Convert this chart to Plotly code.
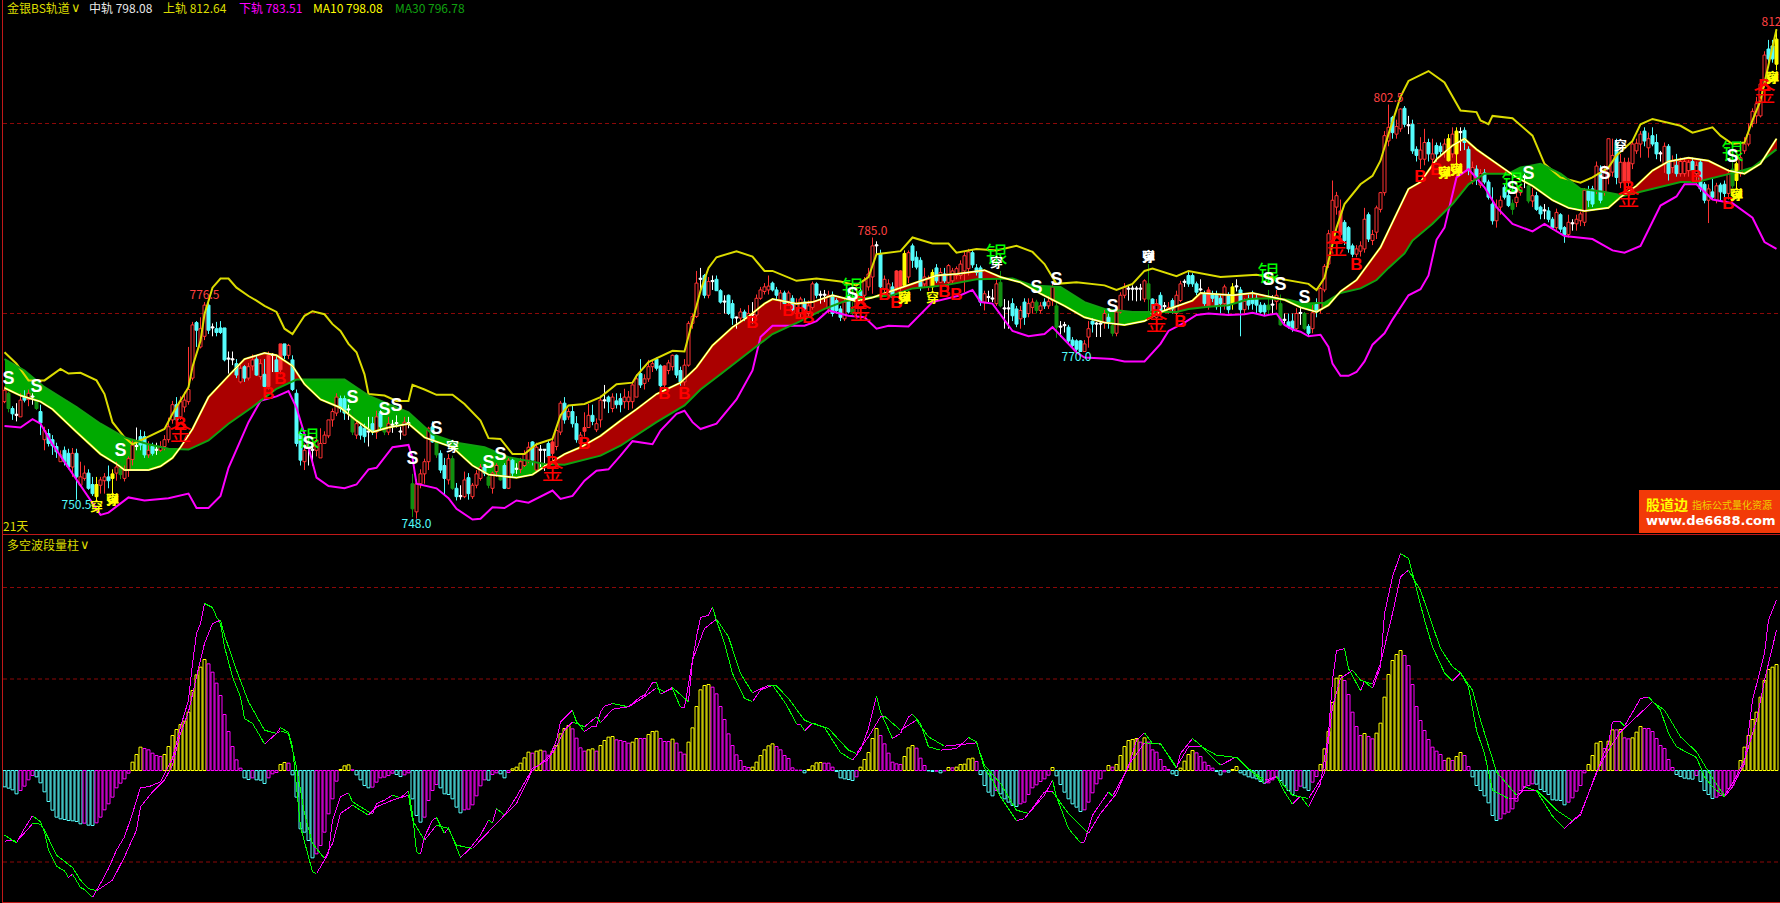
import numpy as np
import plotly.graph_objects as go

W, H = 1780, 903
DIV = 534

# ---------- candles (one value per bar) ----------
opens = [
763.4,764.5,762.5,761.6,761.4,764,763.7,764,763.8,762.1,
758.4,759.2,758.4,757.5,755.5,757,756.6,754.8,756.6,752.4,
753.3,754,752.5,752.5,752.4,753,753.5,753.9,754,754.6,
753.3,754.4,755.8,757.5,758.8,758.8,756.4,757.5,757,757,
757.5,758.4,761,763,761.4,762.7,763.4,766.5,773.8,770.6,
772,776.1,773.1,773,773.1,773.1,769,768.9,768.4,766,
768,766.5,768.1,769,766.7,767,765.4,769.5,768.9,767.6,
771,769.5,768.9,764.5,759.2,755.5,757.9,757,757,756,
757.9,758.9,761,761.9,763.8,763.8,762.3,761.4,759,760.1,
759.9,759.4,760.5,759.4,761.9,760.1,759.4,760.3,760.5,759.4,
759,760.5,752.6,748.9,752.6,753.9,755.5,760.1,758.1,756.6,
755,753.1,755.9,752,750.9,750.9,753.4,750.9,752.4,753.3,
754.8,753.5,752,754.2,754.2,755,752,755.7,754.5,754.5,
755,755.7,758.1,754.4,757,757,757.9,756.6,757.5,759.4,
763.2,761.4,762.1,760.5,757.9,759.5,760,761.6,759.7,761,
763.5,764,762.5,763.5,763.8,763.4,763.4,763.4,764,767.1,
765.8,766.4,768,769,768.1,765.6,767.5,768,769.5,767.5,
766,768.2,773.7,774.6,779.5,780,777.4,779.2,779.5,778,
776.5,777.4,776.3,774.4,774.4,775.2,774.4,774.8,774.8,777,
777.9,778.1,779,778.1,776.8,777.7,776.6,777,775,775,
776.5,775,775.8,778.9,777.4,777.4,775.6,777.4,776.7,775.6,
774.3,777.4,775.6,775,778,777.4,778.5,779.8,783.9,782.8,
778.2,777.4,778.5,778.2,778.5,782.9,779.8,783.9,782.4,782,
778.9,778.5,780.4,781,779.1,780.2,779.1,779.3,780,780,
780.6,780.9,783,781,781,776.5,777.1,776.9,776.3,779.1,
775.6,775.6,776.3,775.6,774.3,776.5,775,775.8,776.5,775.4,
776.5,776,776.7,776,773.2,773.4,773.2,771.5,771.4,771.4,
770,771.9,774,773.6,773.6,773.9,774.5,773.4,772.4,775.2,
777.4,778.2,778.2,778.2,778.2,776.9,778.9,776.9,774.5,777.4,
775.9,775.2,776.7,775,776.7,779.1,780,780,778.9,778.1,
777.6,775.9,777.6,777.4,777,776.3,777.4,778.5,778.5,778.1,
775.5,776.8,776.9,777,776.1,776.1,776.1,776.1,776.6,776.3,
774.1,773.9,774,773,775,775,773.3,773,776.2,775.5,
778.1,781.5,784.6,789,785.4,787,786.3,783.9,782.8,783.2,
783.5,788,784.6,785.7,788.7,790.9,797.7,800.8,798.6,799.3,
802,799.7,799.9,796.6,795.3,795.3,797.5,795.3,797.1,797,
796.2,798,796,799,798.8,799.1,796.6,792.5,794,791.9,
793.5,792.3,789.4,787.2,789,791.6,790.5,789.5,789.6,790.9,
792.9,791.8,789.8,790.5,789,788.5,788.5,787.4,786.3,788,
786.3,785.4,786.8,786.8,787.2,787,791.2,791.4,791.2,793.4,
791,793.1,793.6,797.5,792.2,792.2,792.2,794.7,796.4,797.3,
799,796.8,798.4,797.5,796,794.7,797,794.2,794.5,793.4,
793.4,793.8,795,793.4,794.9,792,789.9,791,789.9,791.9,
792,790.8,794,794.7,793.4,796.4,797.3,800,801,801,
805.2,809.8,810.2,811.1]
closes = [
764.9,762.5,761.8,761.6,763.6,763.6,764.5,764,762.5,760.6,
759.6,757.9,757.6,756.8,756.4,755.5,754.8,756.6,753.5,753.5,
754,752,751.3,750.9,753.1,753.5,753,753.3,754.8,753.8,
754.4,755.9,757.7,757.5,757.7,756.4,757,756.6,757,757.5,
758.4,760.1,763,761,763.4,763.6,765,773.5,772.8,773,
776.1,772.8,773.1,772.5,772.5,768.9,769,768.9,766.9,767.8,
766.5,768,768.9,766.9,768.4,765.4,769.5,769.5,767.3,771,
769.5,770.8,765,757.9,755.7,757,757.9,757,758.3,757.9,
759,761,762.1,764,762.5,761.9,762.3,759.4,760.5,759,
758.8,759.4,759.4,761.4,760.1,759.4,760.5,760.3,760.5,759.4,
760.7,760.5,749.3,752.6,753.9,755.5,759.9,758.1,756.4,754.4,
753.3,755.9,752,750.9,750.9,753.1,751.3,752.4,753.9,754.8,
754,752.4,754,755,753.1,752,755.7,754,754.5,755.5,
756.5,757.4,755.7,757.4,757,757,756.1,758.1,759.6,763.2,
761,762.1,760.5,758.4,759,760,761.6,760.8,760.5,763.6,
763.5,763.4,764,763,763,764,764,765.6,766.4,765.6,
766.4,768,768.4,767.8,765.5,768.1,768.5,769.5,766.9,766,
768.2,773.7,774.6,779,779.5,777.4,779.2,779.2,778,776.5,
776.5,775,774.4,774.4,775.2,774.4,775,774.8,777,778.1,
778.5,778.6,778.1,777.4,777.7,776.3,777.7,775.5,776.3,776.9,
775.6,776,778.9,777.4,777.4,777.4,777.4,775,775.4,774.5,
776.5,775.2,775,777.6,777.1,779.3,780.2,783.9,783.9,778.5,
779.5,778.9,777.1,780.6,780.6,778.7,783,782,781.1,778.5,
779.8,779.5,778.5,779.3,780.4,779.3,781.3,780.6,780.9,781.5,
782.6,783.1,781.4,780.4,776.5,777.6,777.1,776.9,778.9,776,
775.6,775.6,774.7,773.6,775.4,774.5,776.3,776.5,775.4,776,
776,776.6,778.5,773.2,773.2,773.4,771.4,770.8,770.3,770,
771,773,773.6,773.6,773.6,775,773.9,772.4,775.2,777.4,
778.5,778.2,778.2,778.2,778.2,779.3,776.9,774.9,776.3,775.2,
775.9,775.8,775.6,777.4,778.9,779.1,778.9,778.9,777.8,778.1,
776.3,778.1,777,775.9,776.3,778.5,775.5,776.3,778.5,775.5,
776.6,776.1,776.3,776.1,775.2,775.2,775.5,776.1,777.4,773.5,
774.1,773.3,773,775,775,773,772.4,775.1,775.2,778.3,
781.2,785.5,789.9,790.5,788.5,784.6,783.5,782.8,783.5,783.9,
787.4,784.8,785.4,788.9,790.9,798.4,799.5,798.8,799.6,801.9,
799.9,799.7,796.4,795.8,796.5,797.5,796,796,796,796.3,
797.3,795.1,798.6,796,798.8,797.5,793.8,794.2,792.9,793.4,
792.3,790.3,787.2,789,789.9,790.3,789.2,788.7,790.3,791.6,
792.9,789.8,790.5,788.7,788.1,788.5,787.4,786.3,788.3,786.1,
785.4,787,786.8,787.4,788.1,791.2,789.9,789.4,794.4,789.9,
793.8,798,795.8,792.9,794.9,794.9,794.9,797.3,797.4,798.6,
797.7,798,797.3,796,796,797,793.4,795.1,793.4,795,
795,794.9,793.8,794.5,791.4,789.9,791.4,790.3,791.8,791,
790.8,793.4,791.8,792.5,795.5,797.3,798.6,801.6,802.6,805.2,
809,808.5,808.5,807.8]
highs = [
765.4,764.7,762.8,763.2,764.5,764.9,765,764.5,764.2,763,
760.1,759.8,759,758,757,757.5,757.2,757.3,757.2,755.5,
755,754.5,753.5,753.5,753.5,754,755,754.5,755.5,755.4,
755,756.2,758.5,760,759.7,759.5,758.2,758,758,758.2,
759,761.3,763.5,764,764.1,764.7,770.6,773.9,774,774.5,
776.5,776.5,773.7,773.9,774,773.1,770,770,769,768.2,
768.2,768.5,769.6,769.5,769,769,770,769.8,769.4,771,
771,771,769.5,765,759.5,757.9,758.8,758,759.2,759.9,
759.5,761,762.5,764.5,764.2,764.2,763,762.4,761,760.5,
760.5,761.4,761.4,762.2,762.3,760.8,761.4,761,761.6,760.1,
761.4,761.4,753.9,753.2,754.5,755.9,760.1,760.8,758.5,757,
756,756.5,756.3,752.7,752.4,754.2,754,752.7,754.4,755.2,
755.2,754,754.2,755.3,754.9,755.3,756,756,755.3,756,
757,758.1,758.2,758,757.7,757.1,758.2,758.5,760.1,763.5,
764,762.5,762.9,761.5,759.4,762,763.1,763,761.2,764.2,
765.6,764.2,764.5,764.5,764.5,765.1,764.8,766,767,769,
767,768.9,768.9,769.2,768.3,768.2,768.9,769.6,769.6,768,
769,774,775,780.6,781,780.2,779.8,780,780,778.2,
777.4,777.5,776.8,774.6,775.7,775.5,776.1,776.5,777.5,778.5,
779,780,779.2,778.5,778.1,778,778,777.4,777,777.2,
777,776.7,779.2,779.1,778,778.1,778,777.9,777,776,
777,778,776.5,778.5,778.5,779.8,781,785,784.5,783.4,
780,779.5,779.1,780.7,780.7,783.3,783.3,784.2,783.2,782.4,
781,780,780.8,781.5,781,781,781.5,781,781.2,782,
783.1,783.5,783.4,781.5,781.3,778,778,778.2,779.5,780.6,
776.9,776.7,777,776,776,777,777,777,776.8,776.5,
777,777.3,779,777,774,773.9,773.5,771.9,771.6,771.5,
771.5,774,774.4,773.9,773.9,775.6,775,774,775.6,777.8,
779,778.7,778.7,778.6,778.9,779.5,781.5,777,776.9,777.8,
776.5,776.5,777,778,779.3,779.5,780.5,780.3,779.2,779.5,
778,778.5,778,778,777.4,778.8,777.8,779,779.5,778.5,
777,777.5,778,777.5,776.5,776.4,778.1,777.4,778.1,777.5,
775,775,775,775.7,775.9,775.2,773.6,776.1,777,778.5,
781.5,786,792.5,791,790,787.3,786.5,784.2,784,784.5,
788.9,788.3,786,789.2,791,799,802.5,801,800.5,802,
802.3,801,800.5,797,798.2,799.3,798,798,797.5,797.5,
798,798.6,799.5,799.5,799.5,799.5,797,795,794.5,794,
794,792.6,791.6,790,790.5,792,791,790,791,792,
793.4,792.5,791.5,791,789.2,789.4,789,787.7,788.8,788.2,
786.5,788,787.4,788,788.4,791.5,791.8,791.8,795,794.5,
794.5,798,798,798,796,795.5,795.5,797.7,798,799,
799.5,798.8,799.5,798.6,796.4,797.5,797.3,795.8,796,795.5,
795.5,795.2,795.5,795,795.2,792.3,792,792.7,792.2,792.2,
792.5,794,795,795,797.7,798.2,800,802,803.5,805.5,
809.5,811,811,812.4]
lows = [
763.2,762,761,760.8,761.4,763.3,762.8,763,762.3,759,
757,757.5,756.4,756,755.5,755,754.5,753.5,750.5,752.2,
753,751.8,751,750.2,751.3,751.3,752,751,753,753.2,
752.9,753.5,755,757,757,756,756,756.3,756.4,756.8,
757,758,760.5,760.5,761,762,763,766.2,770.6,770.4,
771.5,772.3,772,772,772.3,768.7,767.1,768.2,766.5,765.8,
766,766.2,767.5,766.8,766.3,765,765,767.3,767,767,
769,769,764.8,757.5,755,754.4,755,755,756.2,756,
757.9,758.6,760.1,761.5,762,761,761,759,758.5,758.4,
758,757.5,759,758.5,759.8,759,759,759.3,760,758.4,
759,759.9,748.2,748,752,752.6,754.4,758,756,754,
751.1,752.5,751.8,750.4,750.5,750.7,750.5,750.6,752,753,
753.6,752,751.3,753.5,753,751.9,751.9,753.5,753.9,754,
754.8,755.3,755,754,754.8,754.3,755,755.5,757,759,
760.5,761,760,758,757.5,758.8,760,760.3,759.4,760,
762.5,761.9,762,762.5,762,762.5,762.3,762.5,764,765.2,
765,766,767.3,767.5,765,765,767,767.5,766.5,765.5,
765.5,768,773,774.4,778.1,777,777,778.1,778,776.3,
775,774.8,773.5,773,774,774,774,773.7,774.5,776.8,
777.5,777.5,777.9,776.8,775.5,776,776,775,774.8,774.4,
775.3,774.6,775.5,777,776.3,776.5,775,774.6,775,774,
774,775,774.8,774.6,776.5,777,778,777.6,782.8,778,
777.8,777,776.5,778,778,778.5,779,781,780.8,778,
778.5,778,778,779,779,779,778,779,779.5,779.5,
777.8,780,781,780,776,775.4,776.5,776.5,776,775.8,
773,773,774,773.2,773,773.5,774.5,775,775,775,
775.6,775.6,776,771.8,771.9,772.5,771,770.5,770,770,
770,770.5,772.5,771.9,771.9,773,773,772,772,775,
777,776.7,776.7,776.6,776.7,776.5,775,774.6,774,775,
775.4,775,775,774.6,776.5,778.5,778.5,778.5,777.4,777.9,
776,775.5,776.5,775.5,775,775.5,775,775.5,777.9,772,
775,775.5,775.5,775,775,774.8,774.8,775,775.5,773.4,
773.5,773,772.6,772.8,773.5,772.8,772,772.4,774.5,775,
777.8,781,784,788,785,784,783,782.4,782.4,782.5,
783,784.4,784,784.8,788.3,790.5,797,798,798,798.9,
799.5,798.6,796,795,794,794.5,795,794.5,795,795.6,
795.5,795,795.5,794,796.4,796.5,793.2,792,791.9,791.5,
792,790,786.7,786.3,788,790,789,788,789,790.5,
791.5,789.5,789,788.5,787.4,787.4,787,786,786,785.7,
784.3,785,785.9,785.9,786.5,786.5,789,789,790.7,789.5,
790.5,792,793,792,791.5,791.5,791.5,794,796,795.5,
797,795.5,797,795.3,795,793.5,792.5,793.5,793,793,
793,793,793,792,791,789.5,786.9,790,789.5,789.8,
790,790,791.5,791.5,793,796,797,799.5,800,800.8,
804.7,808,808,807]

green_bars = [1,8,29,87,95,102,108,112,121,124,212,249,258,263,277,286,316,319,325,377,381,432]
yellow_bars = [23,27,225,232,307,361,363,433,443]
solid_red_bars = [66,69,137,145,165,223,224,301,334,405,406]

high_labels = [50,217,346,443]
low_labels = [18,103,268]

# ---------- channel lines (bar index, price) ----------
upper_x = [0,3,6,10,14,16,19,23,25,27,30,32,36,40,42,46,47,49,50,51,52,54,56,58,61,63,65,68,70,72,75,77,80,82,84,86,88,90,91,95,98,101,102,105,108,112,115,119,121,124,127,130,133,137,139,141,145,149,153,157,158,161,164,167,170,172,174,176,178,183,187,190,192,198,203,209,213,216,218,224,227,232,236,238,243,248,253,257,260,263,268,275,278,282,285,287,293,296,299,304,313,322,326,328,330,331,333,335,339,342,344,346,349,351,356,360,364,368,369,371,372,377,382,385,389,394,397,401,403,407,409,412,419,422,427,429,432,435,437,439,443]
upper_y = [769.9,768.4,766.2,766.2,767.7,767.1,767.2,766.2,764.4,760.7,758.7,757.8,758.8,759.8,761.8,765.3,768,771.4,774.9,776.8,778.4,779.6,779.6,778.4,777.3,776.7,776,775.2,773,772.3,774.7,775.3,774.9,773.6,772.7,771,769.9,767,764.4,764.2,763.5,763.5,765.6,765,764.3,764.3,763.1,760.9,758.6,758.5,756.5,756.5,757.8,758.5,761.6,762.9,763.1,764,765.7,765.9,766.8,768.6,769.3,770.1,770,774,778,781,782.4,783.2,782.5,780.6,780.6,779.3,779.6,779.2,778.7,779.8,782.8,783.2,785,784.2,784.2,783,783.5,783.3,783.9,783.1,781.5,778.9,779.1,778.7,778.1,778.9,780.6,780.9,779.9,780.6,780.3,779.8,780.1,779.2,778.9,778.1,779.7,781.9,786.3,789.4,792,793.1,795.1,798.6,803.5,805.6,806.9,805.4,801.7,801.5,800.4,799.9,801,800.7,798.4,794.7,792.9,792.2,792.9,794.2,795.8,797.7,799.9,800.6,799.7,798.8,799.5,798.4,797.3,797.5,800.4,803,812.4]
lower_x = [0,4,7,9,12,17,21,24,26,31,35,41,46,48,51,54,56,61,64,68,71,73,76,78,81,85,88,91,93,97,101,102,103,108,111,113,117,119,122,125,128,131,137,139,142,145,148,151,154,157,162,164,168,170,172,174,178,183,187,189,192,200,203,206,211,215,218,221,226,232,239,242,244,247,252,256,260,262,264,268,270,277,280,285,289,291,295,298,301,306,310,312,315,318,320,322,324,326,329,331,332,334,336,338,340,342,345,347,351,354,356,358,360,363,366,370,373,377,382,385,390,397,402,405,409,414,418,420,423,427,432,437,440,443]
lower_y = [760.2,760,761.1,760.5,757.8,753.9,750.8,748.5,748.8,750.8,750.4,750.7,751.3,749.4,749.4,751,754.7,760.7,763.5,764.1,764.8,762.6,757.4,753.4,752.3,752,752.5,754.5,754.7,757.4,757.7,756,752.6,752,750.7,749.3,747.9,748,749.5,749.4,750.4,750.1,751.7,750.6,751,753,754.3,754.5,756.3,758.2,757.8,759.6,761.8,762.2,760.7,759.8,760.5,763.7,767.5,771.9,773.4,773.4,774,775.4,774.7,774.5,773,773.4,773.3,776.5,777.4,778.1,776.5,776.3,772.7,772,772.3,773.2,772.1,769.9,769.2,769,768.7,768.7,771,772.7,773.8,774.8,775,774.8,774.9,775.1,774.7,775,773.5,772.9,772.6,772,772.2,770.6,768.4,766.8,766.8,767.3,768.7,770.9,772.4,774.2,777.4,778.2,780,784.7,786.3,792.9,794,791.6,789,786.8,785.8,786.8,785.2,784.8,783.3,783,783.9,789.2,790.4,792,792,790,789.5,787.6,784.4,783.5]
ma10_x = [0,4,9,12,18,24,28,30,36,39,42,44,47,51,56,60,65,68,72,75,79,84,88,92,96,101,105,112,117,121,128,132,136,140,144,149,154,158,163,169,173,177,182,186,190,192,198,202,207,213,217,223,228,233,238,245,249,254,259,265,270,275,280,285,289,293,297,299,307,312,316,320,324,328,331,334,338,341,344,348,351,354,358,362,365,368,373,378,382,387,391,395,401,404,408,412,416,421,426,431,435,439,443]
ma10_y = [765.2,764.2,763.4,762.4,759.4,756.5,755.2,754.4,754.4,754.9,756,757.4,759.8,764,766.8,769,769.8,769.5,768.1,765.7,763.7,762.6,760.9,759.4,760,760.5,758.7,757.4,755,753.8,753.4,753.8,755.2,756.5,757.4,758.9,760.9,762.4,764.4,765.9,767.9,770.8,773.2,774.6,776.3,776.9,776.3,776.5,777.4,776.6,777.1,778.2,779.1,780,780.2,780.7,779.8,779.1,777.6,776,774.5,773.8,773.5,774,775.2,776,776.7,777.7,777.4,777.7,777.2,776.8,775.8,775.2,776.1,777.9,779.4,781.6,783.7,788.1,791.4,792.3,795.3,797.1,798,796.6,794.7,792.9,791.8,789.9,788.9,788.5,788.9,790.3,791.8,793.8,795,795.5,795.1,793.8,793.4,794.7,798]
ma30_x = [0,5,10,18,24,30,36,41,46,51,56,62,68,73,85,91,101,107,113,120,126,135,140,149,154,158,163,170,174,179,187,192,199,205,210,216,222,227,235,243,252,257,264,270,275,282,286,293,296,301,306,311,316,321,325,330,334,339,343,346,350,352,357,362,366,370,376,379,384,389,394,400,405,412,419,423,428,433,437,443]
ma30_y = [769,767.5,765.3,762.7,760.5,758.7,757.8,757.2,757.1,758.3,760.5,762.7,765.1,766.3,766.3,764.2,762,759.1,758,757.4,756.1,755.2,755.1,756.3,757.6,759,760.7,762.9,765,767,770.3,772.3,774,775.6,776.6,777.1,777.4,778.3,778.7,779.5,779.6,778.7,778.5,776.5,775.6,775.2,775.2,775.2,775.6,775.9,776.1,776.9,777,776.8,776.3,776.4,777.7,778.3,779.4,781,782.9,784.6,786.8,789.4,792,793.4,793.4,794.2,794.7,793.4,791.4,791,790.5,791.4,792.3,792.3,792.9,793.6,794.2,796.6]

# ---------- volume-wave histogram (one value per bar) ----------
hist = [
-49,-53,-58,-70,-60,-47,-28,-15,-19,-37,
-64,-93,-119,-140,-145,-147,-150,-151,-153,-160,
-158,-164,-165,-157,-140,-118,-100,-80,-52,-38,
-25,-8,25,48,70,66,62,52,45,42,
48,72,105,123,138,148,175,240,287,310,
333,320,295,262,225,168,117,72,32,7,
-22,-27,-22,-28,-29,-39,-22,-10,-6,18,
24,22,-13,-80,-175,-185,-210,-262,-250,-225,
-185,-130,-85,-32,3,14,17,2,-13,-28,
-45,-52,-50,-35,-22,-20,-15,-8,-12,-18,
-13,-7,-85,-135,-155,-140,-90,-60,-42,-52,
-70,-72,-85,-110,-127,-118,-116,-103,-76,-46,
-28,-29,-12,-7,-10,-22,-6,5,10,22,
38,55,52,58,61,58,46,58,75,110,
126,135,125,97,68,58,62,65,58,
75,90,100,102,92,90,87,82,85,96,
96,96,108,117,118,96,87,87,94,82,
55,49,85,128,192,242,255,258,250,230,
192,153,110,75,47,30,12,9,10,25,
45,62,74,80,72,62,45,36,8,1,
1,-7,3,14,23,24,22,22,10,-3,
-22,-25,-27,-30,-19,10,33,54,96,126,
105,80,52,25,20,18,42,68,75,67,
37,15,-1,-3,-2,-7,-1,9,8,10,
18,19,35,37,27,-12,-45,-65,-76,-60,
-70,-85,-95,-105,-108,-100,-95,-72,-52,-43,
-33,-25,-14,9,-16,-42,-65,-85,-100,-110,
-123,-118,-95,-67,-40,-25,-1,15,10,18,
45,72,90,93,96,85,98,85,62,55,
33,12,3,-10,-15,7,28,48,60,53,
42,25,15,7,-3,-13,-4,-5,3,12,
-7,-13,-19,-22,-25,-33,-38,-37,-28,-20,
-30,-45,-60,-72,-60,-47,-52,-60,-35,-18,
18,65,117,204,277,285,270,228,175,132,
105,111,102,95,112,142,220,288,330,348,
360,345,315,258,192,150,120,93,70,58,
48,30,37,30,42,54,45,12,-19,-45,
-60,-76,-97,-135,-150,-145,-130,-125,-115,-92,
-60,-48,-45,-40,-41,-57,-63,-72,-88,-89,
-90,-103,-95,-82,-62,-45,-7,18,45,82,
87,66,88,122,122,123,98,95,98,115,
132,126,126,117,96,75,66,33,9,-12,
-18,-23,-25,-26,-15,-33,-60,-72,-84,-80,
-75,-74,-55,-45,-20,30,70,105,153,175,
220,270,303,310,318]

fast_x = [0,3,5,7,9,10,11,13,15,16,17,19,20,22,24,26,28,30,32,34,36,39,42,44,46,47,48,49,50,52,53,54,55,57,59,60,62,64,65,68,69,71,72,73,74,76,77,78,79,81,82,84,86,87,89,92,93,95,97,99,101,102,103,104,105,107,108,110,111,114,116,119,121,122,123,125,128,132,136,138,139,142,143,145,147,148,149,150,152,154,156,159,160,162,163,164,167,169,170,173,174,176,177,178,180,182,185,187,189,192,195,196,198,199,200,202,205,207,209,212,214,216,218,219,222,224,226,227,229,231,234,238,239,241,243,245,247,249,253,255,258,260,262,263,266,269,270,272,276,277,281,283,285,287,289,293,294,297,299,301,304,308,310,315,318,320,322,324,326,329,331,332,333,335,336,339,340,342,344,345,347,349,351,352,355,357,360,362,364,366,368,370,372,376,378,380,383,387,390,394,398,400,401,402,404,405,409,411,414,416,418,423,425,427,430,432,435,437,440,441,443]
fast_y = [-194,-217,-174,-136,-154,-184,-239,-287,-301,-321,-311,-351,-357,-381,-339,-294,-239,-199,-129,-51,-49,-34,36,131,211,321,411,441,501,489,461,441,371,281,221,156,141,101,79,111,129,114,71,-49,-169,-259,-304,-309,-289,-249,-149,-79,-67,-94,-109,-131,-99,-89,-74,-82,-61,-129,-244,-252,-199,-149,-141,-189,-171,-261,-239,-194,-149,-157,-114,-134,-79,6,33,91,146,181,146,117,133,133,176,193,201,196,191,221,226,263,264,229,246,189,189,401,459,466,489,451,381,291,216,207,241,256,206,186,139,139,119,143,129,91,54,31,61,126,224,176,96,111,161,169,141,71,61,66,76,99,86,6,-29,-79,-151,-144,-101,-74,-29,-79,-174,-217,-214,-134,-64,-77,11,91,113,81,81,6,51,96,76,51,16,41,16,-39,-17,-64,-101,-77,-109,-39,111,271,359,366,306,239,268,246,311,471,581,651,636,591,451,371,293,269,293,251,121,51,-59,-84,-84,-49,-61,-137,-174,-129,-9,56,81,146,146,133,216,221,181,111,71,39,-19,-49,-79,-49,21,211,351,451,511]
slow_x = [0,2,3,6,7,9,10,13,17,19,21,23,27,30,33,34,37,40,42,44,46,48,50,52,54,55,58,61,65,68,69,71,73,75,77,80,82,84,87,89,91,93,97,101,102,105,108,111,113,117,121,125,128,132,137,140,142,145,148,149,152,156,160,163,165,167,171,172,175,178,181,184,187,191,193,196,200,202,206,211,213,216,219,220,224,228,231,235,240,243,245,249,253,256,260,262,266,271,274,278,281,285,289,293,296,299,303,308,311,315,318,322,326,330,332,334,337,339,342,344,347,349,351,354,359,362,364,367,369,373,378,380,383,388,392,394,398,401,404,408,412,415,419,423,426,429,430,432,435,438,440,443]
slow_y = [-212,-209,-213,-174,-159,-161,-179,-254,-291,-329,-354,-361,-329,-259,-179,-109,-64,-29,16,111,176,281,381,441,451,406,301,206,121,111,119,111,11,-129,-219,-264,-219,-129,-104,-119,-134,-109,-89,-74,-149,-209,-164,-174,-224,-234,-184,-134,-99,1,51,121,146,131,161,143,184,191,221,248,236,249,206,331,426,454,401,291,233,256,254,216,151,141,126,61,51,101,161,163,121,151,101,73,79,83,16,-39,-119,-129,-64,-64,-129,-189,-129,-69,16,83,79,11,71,73,46,39,6,-29,-19,-74,-84,-9,191,276,301,271,259,321,471,581,601,541,366,311,293,241,151,-4,-74,-59,-59,-119,-151,-134,-4,61,116,161,206,181,101,56,-4,-59,-74,-39,31,151,271,421]

# ---------- signal marks (bar index, price) ----------
s_x = [1,8,29,76,87,95,98,102,108,121,124,212,258,263,277,316,319,325,377,381,400,432]
s_y = [766.3,765.2,756.9,757.7,763.8,762.2,762.7,755.8,759.7,755.2,756.3,777.4,778.3,779.3,775.8,779.4,778.7,777,791.3,793.3,793.3,795.5]
b_x = [44,66,69,137,145,165,170,187,196,199,201,214,220,223,235,238,288,294,333,338,354,358,406,423,431,440]
b_y = [760.4,764.3,766.3,755.2,757.7,764.3,764.3,773.7,775.2,774.9,774.3,776.3,777.4,776.3,777.7,777.4,775.2,773.8,784.9,781.3,792.9,793.8,791.4,792.9,789.3,804.9]
jin_x = [44,137,214,288,333,406,440]
jin_y = [759.1,754,775,773.6,783.6,790,803.7]
yin_x = [76,212,248,316,377,432]
yin_y = [758.3,778,782.5,780,792,796]
chuan_yellow_x = [23,27,225,232,360,363,433,442]
chuan_yellow_y = [749.4,750.4,777,776.9,793.4,793.8,790.5,805.9]
tan_yellow_x = [27,225,360,363,433,442]
tan_yellow_y = [750.4,777,793.4,793.8,790.5,805.9]
chuan_white_x = [112,248,286,404]
chuan_white_y = [757.4,781.5,782.4,797]
tan_white_x = [286]
tan_white_y = [782.4]

assert len(opens) == len(closes) == len(highs) == len(lows) == 444, (len(opens), len(closes), len(highs), len(lows))
assert len(hist) == 444, len(hist)
for a, b in [(upper_x, upper_y), (lower_x, lower_y), (ma10_x, ma10_y), (ma30_x, ma30_y), (fast_x, fast_y), (slow_x, slow_y)]:
    assert len(a) == len(b), (len(a), len(b))

RED = "#FF3232"; CYAN = "#54FCFC"; YEL = "#FFFF00"; MAG = "#FF00FF"; WHITE = "#FFFFFF"
GRN = "#10A010"; DIMY = "#DCDC00"; CJK = "Noto Sans CJK SC"
bars = list(range(444))
fig = go.Figure()

# ---------- ribbon between MA10 and MA30 ----------
grid = np.arange(444, dtype=float)
m10 = np.interp(grid, ma10_x, ma10_y)
m30 = np.interp(grid, ma30_x, ma30_y)
polys = {True: ([], []), False: ([], [])}
start = 0
for k in range(1, 445):
    if k == 444 or (m10[k] > m30[k]) != (m10[start] > m30[start]):
        xs, a, b = list(grid[start:k]), list(m10[start:k]), list(m30[start:k])
        if k < 444:
            d0, d1 = m10[k-1]-m30[k-1], m10[k]-m30[k]
            t = d0 / (d0 - d1)
            xc = k - 1 + t
            yc = m10[k-1] + t * (m10[k] - m10[k-1])
            xs.append(xc); a.append(yc); b.append(yc)
        if start > 0:
            d0, d1 = m10[start-1]-m30[start-1], m10[start]-m30[start]
            t = d0 / (d0 - d1)
            xc = start - 1 + t
            yc = m10[start-1] + t * (m10[start] - m10[start-1])
            xs.insert(0, xc); a.insert(0, yc); b.insert(0, yc)
        key = bool(m10[start] > m30[start])
        polys[key][0].extend(xs + xs[::-1] + [None])
        polys[key][1].extend(a + b[::-1] + [None])
        start = k
for key, col in [(True, "#AA0000"), (False, "#00AA00")]:
    fig.add_trace(go.Scatter(x=polys[key][0], y=polys[key][1], mode="lines", fill="toself",
                             fillcolor=col, line=dict(width=0), hoverinfo="skip", zorder=0))

# ---------- candles ----------
fill, edge, body_h, body_b = [], [], [], []
wx, wy, wc = {}, {}, {}
for i in bars:
    o, c, h, l = opens[i], closes[i], highs[i], lows[i]
    if i in green_bars:
        col, fc = "#109010", "#109010"
    elif i in yellow_bars:
        col, fc = YEL, YEL
    elif abs(c - o) < 0.05:
        col, fc = WHITE, WHITE
    elif c > o:
        col, fc = RED, RED if i in solid_red_bars else "#000000"
    else:
        col, fc = CYAN, CYAN
    top, bot = max(o, c), min(o, c)
    body_b.append(bot); body_h.append(max(top - bot, 0.14))
    fill.append(fc); edge.append(col)
    wx.setdefault(col, []).extend([i, i, None, i, i, None])
    wy.setdefault(col, []).extend([h, top, None, bot, l, None])
fig.add_trace(go.Bar(x=bars, y=body_h, base=body_b, width=0.75, zorder=1, hoverinfo="skip",
                     marker=dict(color=fill, line=dict(color=edge, width=1))))
for col in wx:
    fig.add_trace(go.Scatter(x=wx[col], y=wy[col], mode="lines", line=dict(color=col, width=1),
                             hoverinfo="skip", zorder=1, connectgaps=False))

# ---------- channel lines ----------
fig.add_trace(go.Scatter(x=upper_x, y=upper_y, mode="lines", line=dict(color=DIMY, width=2), hoverinfo="skip", zorder=2))
fig.add_trace(go.Scatter(x=lower_x, y=lower_y, mode="lines", line=dict(color=MAG, width=2), hoverinfo="skip", zorder=2))
fig.add_trace(go.Scatter(x=ma30_x, y=ma30_y, mode="lines", line=dict(color=GRN, width=2), hoverinfo="skip", zorder=2))
fig.add_trace(go.Scatter(x=ma10_x, y=ma10_y, mode="lines", line=dict(color=YEL, width=2), hoverinfo="skip", zorder=2))
fig.add_trace(go.Scatter(x=ma10_x, y=ma10_y, mode="lines", line=dict(color=WHITE, width=1), hoverinfo="skip", zorder=2))

# ---------- signal text ----------
def marks(xs, ys, txt, col, size, family, bold=False):
    fig.add_trace(go.Scatter(x=xs, y=ys, mode="text", text=[txt]*len(xs), textposition="middle center",
                             textfont=dict(color=col, size=size, family=family, weight="bold" if bold else "normal"),
                             hoverinfo="skip", zorder=3))
marks(jin_x, jin_y, "金", "#FF0000", 22, CJK)
marks(yin_x, yin_y, "银", "#00FF00", 22, CJK)
marks(b_x, b_y, "B", "#FF0000", 17, "Liberation Sans", True)
marks(s_x, s_y, "S", WHITE, 18, "Liberation Sans", True)
marks(chuan_yellow_x, chuan_yellow_y, "穿", YEL, 13, CJK, True)
marks(tan_yellow_x, tan_yellow_y, "弹", YEL, 13, CJK, True)
marks(chuan_white_x, chuan_white_y, "穿", WHITE, 13, CJK, True)
marks(tan_white_x, tan_white_y, "弹", WHITE, 13, CJK, True)

# extreme-price labels
fig.add_trace(go.Scatter(x=high_labels, y=[highs[i] for i in high_labels], mode="text",
                         text=[f"{highs[i]:.1f}" for i in high_labels], textposition="top center",
                         textfont=dict(color="#FF4040", size=12, family=CJK), hoverinfo="skip", zorder=3))
fig.add_trace(go.Scatter(x=low_labels, y=[lows[i] for i in low_labels], mode="text",
                         text=[f"{lows[i]:.1f}" for i in low_labels], textposition="bottom center",
                         textfont=dict(color=CYAN, size=12, family=CJK), hoverinfo="skip", zorder=3))

# ---------- lower panel ----------
hcol = []
for i, v in enumerate(hist):
    prev = hist[i-1] if i else v
    if v >= 0:
        hcol.append(YEL if v > prev else MAG)
    else:
        hcol.append(MAG if v > prev else CYAN)
fig.add_trace(go.Bar(x=bars, y=hist, width=0.75, xaxis="x2", yaxis="y2", hoverinfo="skip",
                     marker=dict(color="#000000", line=dict(color=hcol, width=1))))
for xs, ys in [(fast_x, fast_y), (slow_x, slow_y)]:
    segs = {MAG: ([], []), "#00FF00": ([], [])}
    for j in range(len(xs) - 1):
        col = MAG if ys[j+1] >= ys[j] else "#00FF00"
        segs[col][0].extend([xs[j], xs[j+1], None])
        segs[col][1].extend([ys[j], ys[j+1], None])
    for col, (a, b) in segs.items():
        fig.add_trace(go.Scatter(x=a, y=b, mode="lines", line=dict(color=col, width=1),
                                 xaxis="x2", yaxis="y2", hoverinfo="skip"))

# ---------- frame, guides, titles ----------
xr = [-4.5/4, (W-4.5)/4]
split = 1 - DIV/H
shapes = []
for p in (800, 775):
    shapes.append(dict(type="line", xref="paper", x0=0.0017, x1=1, yref="y", y0=p, y1=p, layer="below",
                       line=dict(color="#8C0808", width=1, dash="4px,3px")))
for v in (549, 274.5, -274.5):
    shapes.append(dict(type="line", xref="paper", x0=0.0017, x1=1, yref="y2", y0=v, y1=v, layer="below",
                       line=dict(color="#8C0808", width=1, dash="4px,3px")))
frame = "#C01818"
for (x0, y0, x1, y1) in [(2.5, 0, 2.5, H), (2, DIV+0.5, W, DIV+0.5), (2, 902.5, W, 902.5)]:
    shapes.append(dict(type="line", xref="paper", yref="paper", x0=x0/W, x1=x1/W, y0=1-y0/H, y1=1-y1/H,
                       line=dict(color=frame, width=1)))
shapes.append(dict(type="rect", xref="paper", yref="paper", x0=1639/W, x1=1, y0=1-490/H, y1=1-533/H,
                   fillcolor="#F23A08", line=dict(width=0)))

def note(px, py, text, col, size=12, bold=False, family=CJK):
    return dict(xref="paper", yref="paper", x=px/W, y=1-py/H, text=text, showarrow=False, xanchor="left",
                yanchor="middle", font=dict(color=col, size=size, family=family, weight="bold" if bold else "normal"),
                borderpad=0, borderwidth=0)
anns = [
    note(7, 8, "金银BS轨道", DIMY), note(71, 8, "∨", DIMY, 13, False, "DejaVu Sans"),
    note(89, 8, "中轨 798.08", "#E8E8E8"), note(163, 8, "上轨 812.64", DIMY),
    note(239, 8, "下轨 783.51", MAG), note(313, 8, "MA10 798.08", YEL),
    note(395, 8, "MA30 796.78", GRN), note(3, 525, "21天", DIMY),
    note(7, 544, "多空波段量柱", DIMY), note(80, 544, "∨", DIMY, 13, False, "DejaVu Sans"),
    note(1646, 504, "股道边", YEL, 14, True), note(1692, 504, "指标公式量化资源", "#F0D000", 10),
    note(1646, 520, "www.de6688.com", WHITE, 13, True, "DejaVu Sans"),
]

fig.update_layout(
    width=W, height=H, margin=dict(l=0, r=0, t=0, b=0), autosize=False,
    paper_bgcolor="#000000", plot_bgcolor="#000000", showlegend=False, barmode="overlay",
    xaxis=dict(domain=[0, 1], range=xr, visible=False, anchor="y", fixedrange=True),
    xaxis2=dict(domain=[0, 1], range=xr, visible=False, anchor="y2", fixedrange=True),
    yaxis=dict(domain=[split, 1], range=[800-(DIV-123.5)/7.6, 800+123.5/7.6], visible=False, fixedrange=True),
    yaxis2=dict(domain=[0, split], range=[(770.5-H)*3, (770.5-DIV)*3], visible=False, fixedrange=True),
    shapes=shapes, annotations=anns,
)

post = """
document.documentElement.style.background='#000';
document.body.style.margin='0';document.body.style.background='#000';document.body.style.overflow='hidden';
var st=document.createElement('style');
st.textContent='.scatterlayer .js-line,.scatterlayer .js-fill{shape-rendering:crispEdges}';
document.head.appendChild(st);
"""
fig.write_html("out.html", config={"displayModeBar": False}, post_script=post)
